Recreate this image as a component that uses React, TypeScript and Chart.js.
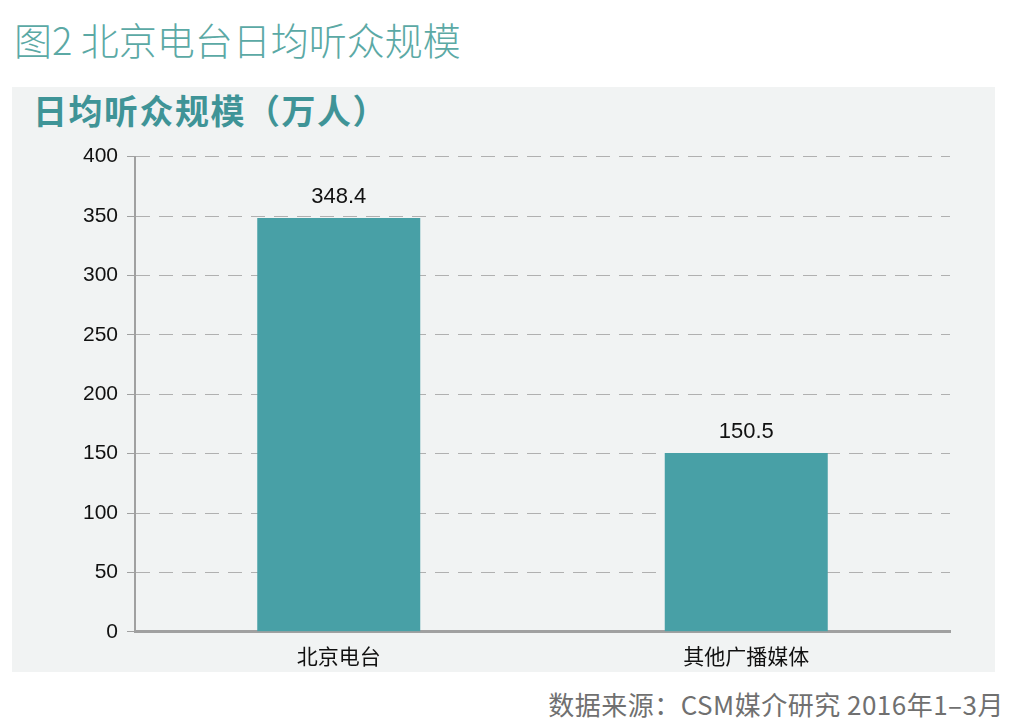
import { useEffect, useRef } from 'react'
import { Chart, registerables } from 'chart.js'

Chart.register(...registerables)

const categories = ['北京电台', '其他广播媒体']
const listeners = [348.4, 150.5]
const yTicks = [0, 50, 100, 150, 200, 250, 300, 350, 400]

const teal = '#48a0a6'
const cjk = '"Noto Sans CJK SC", "Noto Sans", sans-serif'
const latin = '"Liberation Sans", Arial, sans-serif'

const valueLabels = {
  id: 'valueLabels',
  afterDatasetsDraw(chart: Chart) {
    const { ctx } = chart
    const meta = chart.getDatasetMeta(0)
    ctx.save()
    ctx.fillStyle = '#111'
    ctx.font = `22px ${latin}`
    ctx.textAlign = 'center'
    ctx.textBaseline = 'middle'
    meta.data.forEach((bar, i) => {
      ctx.fillText(listeners[i].toFixed(1), bar.x, bar.y - 21)
    })
    ctx.restore()
  },
}

export default function App() {
  const canvasRef = useRef<HTMLCanvasElement | null>(null)
  const chartRef = useRef<Chart | null>(null)

  useEffect(() => {
    document.body.style.margin = '0'
    if (!canvasRef.current) return
    chartRef.current?.destroy()
    chartRef.current = new Chart(canvasRef.current, {
      type: 'bar',
      data: {
        labels: categories,
        datasets: [
          {
            label: '日均听众规模',
            data: listeners,
            backgroundColor: teal,
            barPercentage: 0.4,
            categoryPercentage: 1,
          },
        ],
      },
      options: {
        animation: false,
        responsive: false,
        maintainAspectRatio: false,
        layout: { padding: { top: 0, right: 45, left: 0, bottom: 0 } },
        plugins: {
          legend: { display: false },
          tooltip: { enabled: false },
        },
        scales: {
          x: {
            grid: { display: false },
            border: { color: '#a0a0a0', width: 3 },
            ticks: { color: '#111', font: { family: cjk, size: 21 }, padding: 4 },
          },
          y: {
            min: 0,
            max: 400,
            afterBuildTicks: (axis) => {
              axis.ticks = yTicks.map((v) => ({ value: v }))
            },
            afterFit: (axis) => {
              axis.width = 123
            },
            grid: {
              color: '#b0b0b0',
              lineWidth: 1,
              tickLength: 8,
              tickColor: '#a0a0a0',
            },
            border: { color: '#a0a0a0', width: 2, dash: [14, 9] },
            ticks: { color: '#111', font: { family: latin, size: 21 }, padding: 9 },
          },
        },
      },
      plugins: [valueLabels],
    })
    return () => chartRef.current?.destroy()
  }, [])

  return (
    <div style={{ position: 'relative', width: 1028, height: 728, background: '#fff', overflow: 'hidden' }}>
      <div
        style={{
          position: 'absolute',
          left: 14,
          top: 13,
          fontFamily: cjk,
          fontWeight: 300,
          fontSize: 38,
          color: '#5ba9a5',
          lineHeight: '52px',
          whiteSpace: 'nowrap',
        }}
      >
        图2 北京电台日均听众规模
      </div>
      <div
        style={{
          position: 'absolute',
          left: 12,
          top: 87,
          width: 983,
          height: 585,
          background: '#f1f3f3',
        }}
      />
      <div
        style={{
          position: 'absolute',
          left: 33,
          top: 86,
          fontFamily: cjk,
          fontWeight: 700,
          fontSize: 34,
          letterSpacing: 1.5,
          color: '#3f9497',
          lineHeight: '48px',
          whiteSpace: 'nowrap',
        }}
      >
        日均听众规模（万人）
      </div>
      <canvas
        ref={canvasRef}
        width={983}
        height={538}
        style={{ position: 'absolute', left: 12, top: 135, width: 983, height: 538 }}
      />
      <div
        style={{
          position: 'absolute',
          right: 24,
          top: 687,
          fontFamily: cjk,
          fontSize: 26,
          letterSpacing: 0.5,
          color: '#707070',
          lineHeight: '34px',
          whiteSpace: 'nowrap',
        }}
      >
        数据来源：CSM媒介研究 2016年1–3月
      </div>
    </div>
  )
}
